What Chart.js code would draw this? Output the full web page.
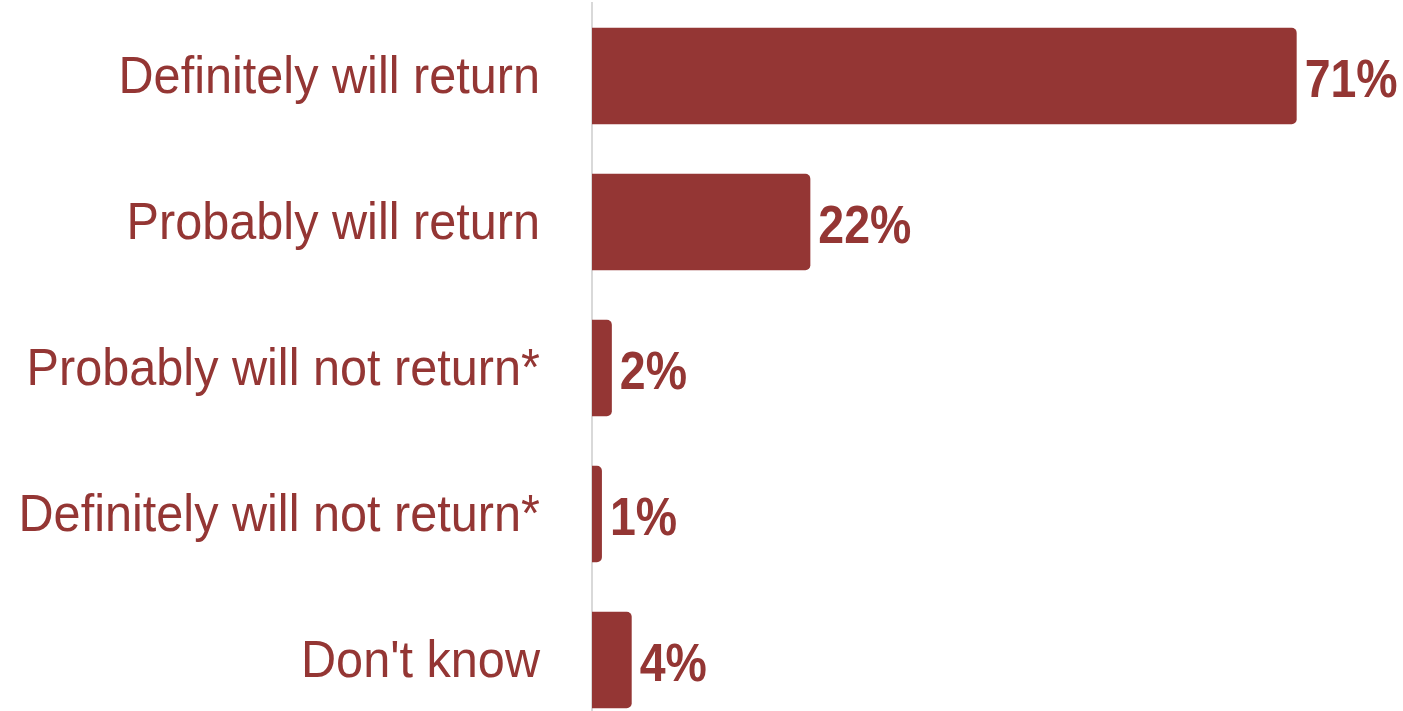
<!DOCTYPE html>
<html>
<head>
<meta charset="utf-8">
<script src="https://cdn.jsdelivr.net/npm/chart.js@4"></script>
<style>
  html, body { margin: 0; padding: 0; background: #fff; overflow: hidden; }
  #wrap { width: 1403px; height: 733px; position: relative; }
</style>
</head>
<body>
<div id="wrap"><canvas id="returnChart"></canvas></div>
<script>
const categories = [
  "Definitely will return",
  "Probably will return",
  "Probably will not return*",
  "Definitely will not return*",
  "Don't know"
];
const shares = [71, 22, 2, 1, 4];

const RED = "#943634";
const FONT = "'Liberation Sans', Arial, sans-serif";

// narrow-looking text: regular sans squeezed horizontally
function squeezedText(ctx, text, x, y, squeeze) {
  ctx.save();
  ctx.translate(x, y);
  ctx.scale(squeeze, 1);
  ctx.fillText(text, 0, 0);
  ctx.restore();
}

// category names to the left of the axis, "NN%" past the end of each bar
const barText = {
  id: "barText",
  afterDatasetsDraw(chart) {
    const ctx = chart.ctx;
    const yScale = chart.scales.y;
    const meta = chart.getDatasetMeta(0);
    ctx.save();
    ctx.fillStyle = RED;
    ctx.textBaseline = "alphabetic";

    ctx.font = "52px " + FONT;
    ctx.textAlign = "right";
    categories.forEach((name, i) => {
      const y = yScale.getPixelForTick(i);
      squeezedText(ctx, name, chart.chartArea.left - 52, y + 17, 0.935);
    });

    ctx.font = "bold 54px " + FONT;
    ctx.textAlign = "left";
    meta.data.forEach((bar, i) => {
      squeezedText(ctx, shares[i] + "%", bar.x + 8, bar.y + 21, 0.86);
    });
    ctx.restore();
  }
};

const ctx = document.getElementById("returnChart").getContext("2d");
new Chart(ctx, {
  type: "bar",
  data: {
    labels: categories,
    datasets: [{
      data: shares,
      backgroundColor: RED,
      borderRadius: { topRight: 5, bottomRight: 5 },
      borderSkipped: "left",
      categoryPercentage: 1,
      barPercentage: 0.66
    }]
  },
  options: {
    indexAxis: "y",
    responsive: true,
    maintainAspectRatio: false,
    animation: false,
    layout: { padding: { top: 3, right: 17, left: 592, bottom: 0 } },
    plugins: {
      legend: { display: false },
      tooltip: { enabled: false }
    },
    scales: {
      x: {
        display: false,
        min: 0,
        max: 80
      },
      y: {
        grid: { display: false, drawTicks: false },
        border: { display: true, color: "#d9d9d9", width: 2 },
        ticks: { display: false }
      }
    }
  },
  plugins: [barText]
});
</script>
</body>
</html>
